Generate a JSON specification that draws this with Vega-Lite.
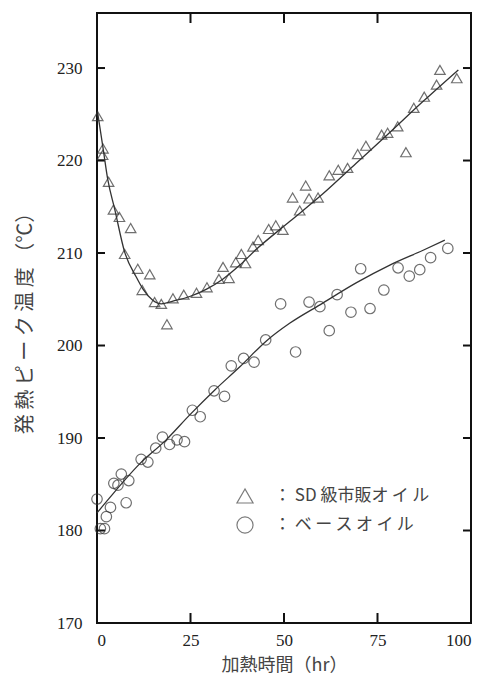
{
  "$schema": "https://vega.github.io/schema/vega-lite/v6.json",
  "width": 374,
  "height": 610,
  "autosize": {"type": "none"},
  "padding": {"left": 97, "top": 13, "right": 21, "bottom": 51},
  "background": "white",
  "config": {
    "view": {"stroke": "#111", "strokeWidth": 2},
    "scale": {"continuousPadding": 0},
    "axis": {
      "domain": false,
      "grid": false,
      "ticks": false,
      "labelFont": "Liberation Serif",
      "labelFontSize": 17,
      "labelColor": "#222",
      "titleFont": "Noto Sans CJK JP",
      "titleFontWeight": "normal",
      "titleColor": "#444"
    }
  },
  "datasets": {
    "xticks": [{"t": 25}, {"t": 50}, {"t": 75}],
    "yticks": [{"temp": 180}, {"temp": 190}, {"temp": 200}, {"temp": 210}, {"temp": 220}, {"temp": 230}],
    "pts": [
      {"t": 0.2, "temp": 224.8, "series": "SD"},
      {"t": 1.6, "temp": 221.3, "series": "SD"},
      {"t": 1.5, "temp": 220.6, "series": "SD"},
      {"t": 3.1, "temp": 217.7, "series": "SD"},
      {"t": 4.4, "temp": 214.7, "series": "SD"},
      {"t": 6.0, "temp": 213.9, "series": "SD"},
      {"t": 9.0, "temp": 212.7, "series": "SD"},
      {"t": 7.4, "temp": 209.9, "series": "SD"},
      {"t": 10.9, "temp": 208.3, "series": "SD"},
      {"t": 14.1, "temp": 207.7, "series": "SD"},
      {"t": 12.1, "temp": 206.0, "series": "SD"},
      {"t": 15.4, "temp": 204.7, "series": "SD"},
      {"t": 17.2, "temp": 204.5, "series": "SD"},
      {"t": 18.7, "temp": 202.3, "series": "SD"},
      {"t": 20.3, "temp": 205.1, "series": "SD"},
      {"t": 23.2, "temp": 205.5, "series": "SD"},
      {"t": 26.6, "temp": 205.7, "series": "SD"},
      {"t": 29.4, "temp": 206.3, "series": "SD"},
      {"t": 32.6, "temp": 207.2, "series": "SD"},
      {"t": 33.7, "temp": 208.5, "series": "SD"},
      {"t": 35.3, "temp": 207.3, "series": "SD"},
      {"t": 37.1, "temp": 209.0, "series": "SD"},
      {"t": 38.6, "temp": 209.9, "series": "SD"},
      {"t": 39.7, "temp": 208.9, "series": "SD"},
      {"t": 41.7, "temp": 210.7, "series": "SD"},
      {"t": 43.1, "temp": 211.4, "series": "SD"},
      {"t": 45.9, "temp": 212.6, "series": "SD"},
      {"t": 47.8, "temp": 213.0, "series": "SD"},
      {"t": 49.7, "temp": 212.5, "series": "SD"},
      {"t": 52.3, "temp": 216.0, "series": "SD"},
      {"t": 54.2, "temp": 214.6, "series": "SD"},
      {"t": 55.8, "temp": 217.3, "series": "SD"},
      {"t": 56.7, "temp": 215.9, "series": "SD"},
      {"t": 59.1, "temp": 216.0, "series": "SD"},
      {"t": 62.1, "temp": 218.4, "series": "SD"},
      {"t": 64.5, "temp": 219.0, "series": "SD"},
      {"t": 67.0, "temp": 219.2, "series": "SD"},
      {"t": 69.7, "temp": 220.7, "series": "SD"},
      {"t": 71.9, "temp": 221.6, "series": "SD"},
      {"t": 76.1, "temp": 222.8, "series": "SD"},
      {"t": 77.7, "temp": 223.0, "series": "SD"},
      {"t": 80.4, "temp": 223.7, "series": "SD"},
      {"t": 82.6, "temp": 220.9, "series": "SD"},
      {"t": 84.7, "temp": 225.7, "series": "SD"},
      {"t": 87.5, "temp": 226.9, "series": "SD"},
      {"t": 90.8, "temp": 228.2, "series": "SD"},
      {"t": 91.7, "temp": 229.8, "series": "SD"},
      {"t": 96.2, "temp": 228.9, "series": "SD"},
      {"t": 0.0, "temp": 183.4, "series": "base"},
      {"t": 0.9, "temp": 180.2, "series": "base"},
      {"t": 2.0, "temp": 180.2, "series": "base"},
      {"t": 2.5, "temp": 181.5, "series": "base"},
      {"t": 3.6, "temp": 182.5, "series": "base"},
      {"t": 4.5, "temp": 185.1, "series": "base"},
      {"t": 5.6, "temp": 184.9, "series": "base"},
      {"t": 6.5, "temp": 186.1, "series": "base"},
      {"t": 7.8, "temp": 183.0, "series": "base"},
      {"t": 8.5, "temp": 185.4, "series": "base"},
      {"t": 11.8, "temp": 187.7, "series": "base"},
      {"t": 13.6, "temp": 187.4, "series": "base"},
      {"t": 15.7, "temp": 188.9, "series": "base"},
      {"t": 17.5, "temp": 190.1, "series": "base"},
      {"t": 19.4, "temp": 189.3, "series": "base"},
      {"t": 21.4, "temp": 189.8, "series": "base"},
      {"t": 23.4, "temp": 189.6, "series": "base"},
      {"t": 25.5, "temp": 193.0, "series": "base"},
      {"t": 27.6, "temp": 192.3, "series": "base"},
      {"t": 31.3, "temp": 195.1, "series": "base"},
      {"t": 34.1, "temp": 194.5, "series": "base"},
      {"t": 35.9, "temp": 197.8, "series": "base"},
      {"t": 39.2, "temp": 198.6, "series": "base"},
      {"t": 42.0, "temp": 198.2, "series": "base"},
      {"t": 45.1, "temp": 200.6, "series": "base"},
      {"t": 49.1, "temp": 204.5, "series": "base"},
      {"t": 53.1, "temp": 199.3, "series": "base"},
      {"t": 56.7, "temp": 204.7, "series": "base"},
      {"t": 59.6, "temp": 204.2, "series": "base"},
      {"t": 62.1, "temp": 201.6, "series": "base"},
      {"t": 64.2, "temp": 205.5, "series": "base"},
      {"t": 67.9, "temp": 203.6, "series": "base"},
      {"t": 70.5, "temp": 208.3, "series": "base"},
      {"t": 73.0, "temp": 204.0, "series": "base"},
      {"t": 76.7, "temp": 206.0, "series": "base"},
      {"t": 80.5, "temp": 208.4, "series": "base"},
      {"t": 83.5, "temp": 207.5, "series": "base"},
      {"t": 86.3, "temp": 208.2, "series": "base"},
      {"t": 89.2, "temp": 209.5, "series": "base"},
      {"t": 93.8, "temp": 210.5, "series": "base"}
    ],
    "curves": [
      {"t": 0.2, "temp": 225.1, "series": "SD"},
      {"t": 1.56, "temp": 221.5, "series": "SD"},
      {"t": 2.9, "temp": 217.9, "series": "SD"},
      {"t": 4.7, "temp": 214.8, "series": "SD"},
      {"t": 7.4, "temp": 210.1, "series": "SD"},
      {"t": 10.5, "temp": 207.4, "series": "SD"},
      {"t": 12.3, "temp": 206.1, "series": "SD"},
      {"t": 14.9, "temp": 204.9, "series": "SD"},
      {"t": 17.2, "temp": 204.5, "series": "SD"},
      {"t": 20.3, "temp": 204.8, "series": "SD"},
      {"t": 24.8, "temp": 205.3, "series": "SD"},
      {"t": 29.3, "temp": 206.1, "series": "SD"},
      {"t": 33.7, "temp": 207.2, "series": "SD"},
      {"t": 38.2, "temp": 208.7, "series": "SD"},
      {"t": 42.6, "temp": 210.4, "series": "SD"},
      {"t": 51.5, "temp": 213.4, "series": "SD"},
      {"t": 60.4, "temp": 216.4, "series": "SD"},
      {"t": 69.3, "temp": 219.7, "series": "SD"},
      {"t": 78.2, "temp": 223.0, "series": "SD"},
      {"t": 87.2, "temp": 226.4, "series": "SD"},
      {"t": 96.6, "temp": 229.8, "series": "SD"},
      {"t": 0.0, "temp": 181.9, "series": "base"},
      {"t": 3.3, "temp": 183.5, "series": "base"},
      {"t": 11.4, "temp": 187.2, "series": "base"},
      {"t": 18.5, "temp": 189.8, "series": "base"},
      {"t": 24.8, "temp": 192.5, "series": "base"},
      {"t": 31.5, "temp": 195.2, "series": "base"},
      {"t": 38.2, "temp": 197.7, "series": "base"},
      {"t": 45.3, "temp": 200.5, "series": "base"},
      {"t": 51.5, "temp": 202.4, "series": "base"},
      {"t": 59.6, "temp": 204.4, "series": "base"},
      {"t": 69.4, "temp": 206.8, "series": "base"},
      {"t": 78.3, "temp": 208.7, "series": "base"},
      {"t": 87.2, "temp": 210.3, "series": "base"},
      {"t": 93.0, "temp": 211.4, "series": "base"}
    ]
  },
  "layer": [
    {
      "data": {"name": "xticks"},
      "mark": {"type": "bar", "width": 2, "color": "#111"},
      "encoding": {
        "x": {"field": "t", "type": "quantitative", "scale": {"domain": [0, 100], "nice": false, "padding": 0}, "axis": null},
        "y": {"datum": 170, "type": "quantitative", "scale": {"domain": [170, 235.95], "nice": false, "zero": false, "padding": 0}, "axis": null},
        "y2": {"datum": 171.08}
      }
    },
    {
      "data": {"name": "xticks"},
      "mark": {"type": "bar", "width": 2, "color": "#111"},
      "encoding": {
        "x": {"field": "t", "type": "quantitative", "axis": null},
        "y": {"datum": 234.87, "type": "quantitative", "axis": null},
        "y2": {"datum": 235.95}
      }
    },
    {
      "data": {"name": "yticks"},
      "mark": {"type": "bar", "height": 2, "color": "#111"},
      "encoding": {
        "y": {"field": "temp", "type": "quantitative", "axis": null},
        "x": {"datum": 0, "type": "quantitative", "axis": null},
        "x2": {"datum": 2.14}
      }
    },
    {
      "data": {"name": "yticks"},
      "mark": {"type": "bar", "height": 2, "color": "#111"},
      "encoding": {
        "y": {"field": "temp", "type": "quantitative", "axis": null},
        "x": {"datum": 97.86, "type": "quantitative", "axis": null},
        "x2": {"datum": 100}
      }
    },
    {
      "data": {"name": "curves"},
      "mark": {"type": "line", "interpolate": "monotone", "color": "#333", "strokeWidth": 1.3},
      "encoding": {
        "x": {"field": "t", "type": "quantitative", "axis": null},
        "y": {"field": "temp", "type": "quantitative", "axis": null},
        "detail": {"field": "series"}
      }
    },
    {
      "data": {"name": "pts"},
      "mark": {"type": "point", "filled": false, "strokeWidth": 1.2, "size": 110, "color": "#333"},
      "encoding": {
        "x": {"field": "t", "type": "quantitative",
          "axis": {"orient": "bottom", "values": [0, 25, 50, 75, 100], "labelPadding": 9, "title": "加熱時間（hr）", "titlePadding": 8, "titleFontSize": 18}},
        "y": {"field": "temp", "type": "quantitative",
          "axis": {"orient": "left", "values": [170, 180, 190, 200, 210, 220, 230], "labelPadding": 15, "title": "発 熱 ピ ー ク 温 度 （℃）", "titleFontSize": 20, "titlePadding": 21}},
        "shape": {"field": "series", "type": "nominal",
          "scale": {"domain": ["SD", "base"], "range": ["triangle-up", "circle"]},
          "legend": {
            "orient": "none", "legendX": 139, "legendY": 474, "title": null, "padding": 0,
            "symbolSize": 260, "symbolStrokeColor": "#444", "symbolStrokeWidth": 1.2, "symbolFillColor": "transparent",
            "labelFont": "Noto Sans CJK JP", "labelFontSize": 17, "labelColor": "#444", "labelOffset": 20,
            "rowPadding": 8,
            "labelExpr": "datum.value == 'SD' ? '：  SD 級市販オ\u2009イ\u2009ル' : '：  ベ\u2009ー\u2009ス\u2009オ\u2009イ\u2009ル'"
          }
        }
      }
    }
  ],
  "resolve": {"axis": {"x": "independent", "y": "independent"}}
}
